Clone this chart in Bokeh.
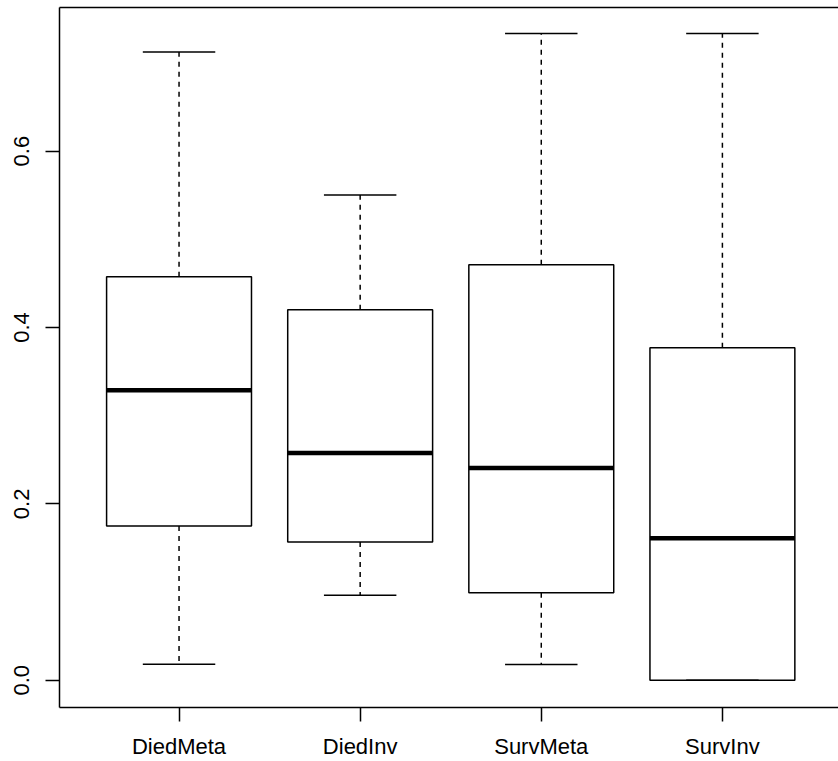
from bokeh.plotting import figure
from bokeh.models import FixedTicker, LinearAxis, Range1d, ColumnDataSource
from bokeh.embed import file_html
from bokeh.resources import INLINE

# ---- data ----
categories = ["DiedMeta", "DiedInv", "SurvMeta", "SurvInv"]
lower_whisker = [0.018, 0.0965, 0.0178, 0.0]
q1 = [0.175, 0.1568, 0.0991, 0.0]
median = [0.3287, 0.2578, 0.2408, 0.161]
q3 = [0.4575, 0.420, 0.4711, 0.377]
upper_whisker = [0.7123, 0.5503, 0.7334, 0.7334]
y_ticks = [0.0, 0.2, 0.4, 0.6]
y_tick_labels = ["0.0", "0.2", "0.4", "0.6"]

pos = [i + 1 for i in range(len(categories))]
half_box = 0.4
half_staple = 0.2

src = ColumnDataSource(dict(
    x=pos,
    left=[p_ - half_box for p_ in pos],
    right=[p_ + half_box for p_ in pos],
    sl=[p_ - half_staple for p_ in pos],
    sr=[p_ + half_staple for p_ in pos],
    lw=lower_whisker, q1=q1, med=median, q3=q3, uw=upper_whisker,
))

FONT = "Liberation Sans"

p = figure(width=838, height=761, output_backend="svg", toolbar_location=None,
           x_range=Range1d(0.34, 4.641), y_range=Range1d(-0.0309, 0.7628),
           min_border_left=59, min_border_right=0, min_border_top=7, min_border_bottom=52,
           x_axis_type=None, y_axis_type=None)
p.outline_line_color = None
p.xgrid.visible = False
p.ygrid.visible = False
p.background_fill_color = "white"
p.border_fill_color = "white"

LW = 1.5
# whiskers (dashed)
p.segment(x0="x", y0="q3", x1="x", y1="uw", source=src, line_color="black",
          line_width=LW, line_dash="5 5")
p.segment(x0="x", y0="q1", x1="x", y1="lw", source=src, line_color="black",
          line_width=LW, line_dash="5 5")
# boxes
p.quad(left="left", right="right", bottom="q1", top="q3", source=src,
       fill_color="white", line_color="black", line_width=LW)
# medians
p.segment(x0="left", y0="med", x1="right", y1="med", source=src, line_color="black",
          line_width=4.5, line_cap="butt")
# staples
p.segment(x0="sl", y0="uw", x1="sr", y1="uw", source=src, line_color="black", line_width=LW)
p.segment(x0="sl", y0="lw", x1="sr", y1="lw", source=src, line_color="black", line_width=LW)

def style_axis(ax):
    ax.axis_line_color = "black"
    ax.axis_line_width = LW
    ax.major_tick_line_color = "black"
    ax.major_tick_line_width = LW
    ax.major_tick_in = 0
    ax.major_tick_out = 14
    ax.minor_tick_line_color = None
    ax.major_label_text_font = FONT
    ax.major_label_text_font_size = "22px"
    ax.major_label_text_color = "black"

xaxis = LinearAxis(ticker=FixedTicker(ticks=pos),
                   major_label_overrides={p_: c for p_, c in zip(pos, categories)})
style_axis(xaxis)
xaxis.major_label_standoff = 12
p.add_layout(xaxis, "below")

yaxis = LinearAxis(ticker=FixedTicker(ticks=y_ticks),
                   major_label_overrides={t: s for t, s in zip(y_ticks, y_tick_labels)})
style_axis(yaxis)
yaxis.major_label_orientation = "vertical"
yaxis.major_label_standoff = 16
p.add_layout(yaxis, "left")

top = LinearAxis(ticker=FixedTicker(ticks=[]))
top.axis_line_color = "black"
top.axis_line_width = LW
top.major_tick_in = 0
top.major_tick_out = 0
top.minor_tick_line_color = None
top.major_label_text_font_size = "0px"
top.major_label_standoff = 0
p.add_layout(top, "above")

open("out.html", "w").write(file_html(p, INLINE))
